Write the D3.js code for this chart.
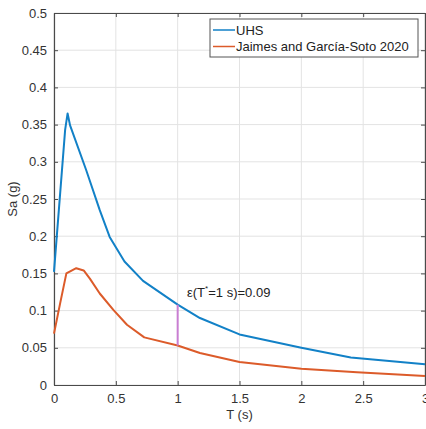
<!DOCTYPE html>
<html>
<head>
<meta charset="utf-8">
<script src="https://cdn.jsdelivr.net/npm/d3@7"></script>
<style>
  html, body { margin: 0; padding: 0; background: #fff; }
  svg { display: block; font-family: "Liberation Sans", Arial, Helvetica, sans-serif; }
</style>
</head>
<body>
<svg id="chart" width="426" height="429"></svg>
<script>
// ---- data ----
const uhsT  = [0, 0.09, 0.11, 0.13, 0.26, 0.37, 0.45, 0.57, 0.72, 1.0, 1.18, 1.5, 2.0, 2.4, 3.0];
const uhsSa = [0.152, 0.343, 0.365, 0.349, 0.289, 0.235, 0.199, 0.166, 0.140, 0.108, 0.090, 0.068, 0.050, 0.037, 0.028];
const jgT   = [0, 0.05, 0.1, 0.18, 0.24, 0.29, 0.37, 0.48, 0.59, 0.73, 1.0, 1.18, 1.5, 2.0, 2.45, 3.0];
const jgSa  = [0.069, 0.110, 0.150, 0.157, 0.154, 0.143, 0.123, 0.101, 0.081, 0.064, 0.053, 0.043, 0.031, 0.022, 0.017, 0.012];
const seriesNames = ["UHS", "Jaimes and García-Soto 2020"];
const xTicks = [0, 0.5, 1, 1.5, 2, 2.5, 3];
const xTickLabels = ["0", "0.5", "1", "1.5", "2", "2.5", "3"];
const yTicks = [0, 0.05, 0.1, 0.15, 0.2, 0.25, 0.3, 0.35, 0.4, 0.45, 0.5];
const yTickLabels = ["0", "0.05", "0.1", "0.15", "0.2", "0.25", "0.3", "0.35", "0.4", "0.45", "0.5"];
const epsT = 1.0;
const epsLabel = "0.09";

// ---- layout ----
const svg = d3.select("#chart");
const L = 54, R = 425, T = 13, B = 385;
const x = d3.scaleLinear().domain([0, 3]).range([L, R]);
const y = d3.scaleLinear().domain([0, 0.5]).range([B, T]);
const colors = ["#1281c7", "#dc5b2a"];
const axisColor = "#4a4a4a";
const textColor = "#333";

// grid
svg.append("g").selectAll("line").data(xTicks).join("line")
  .attr("x1", d => x(d)).attr("x2", d => x(d)).attr("y1", T).attr("y2", B)
  .attr("stroke", "#e3e3e3").attr("stroke-width", 1);
svg.append("g").selectAll("line").data(yTicks).join("line")
  .attr("x1", L).attr("x2", R).attr("y1", d => y(d)).attr("y2", d => y(d))
  .attr("stroke", "#e3e3e3").attr("stroke-width", 1);

// axes
const xAxis = d3.axisBottom(x).tickValues(xTicks).tickFormat((d, i) => xTickLabels[i]).tickSizeInner(-4).tickSizeOuter(0).tickPadding(9);
const yAxis = d3.axisLeft(y).tickValues(yTicks).tickFormat((d, i) => yTickLabels[i]).tickSizeInner(-4).tickSizeOuter(0).tickPadding(7);
const gx = svg.append("g").attr("transform", `translate(0,${B})`).call(xAxis);
const gy = svg.append("g").attr("transform", `translate(${L},0)`).call(yAxis);
[gx, gy].forEach(g => {
  g.select(".domain").attr("stroke", axisColor).attr("stroke-width", 1.2);
  g.selectAll(".tick line").attr("stroke", axisColor);
  g.selectAll(".tick text").attr("fill", textColor).attr("font-size", 13).attr("font-family", "Liberation Sans, Arial, sans-serif");
});
// top and right box with inward ticks
const gt = svg.append("g").attr("transform", `translate(0,${T})`).call(d3.axisTop(x).tickValues(xTicks).tickFormat("").tickSizeInner(-4).tickSizeOuter(0));
const gr = svg.append("g").attr("transform", `translate(${R},0)`).call(d3.axisRight(y).tickValues(yTicks).tickFormat("").tickSizeInner(-4).tickSizeOuter(0));
[gt, gr].forEach(g => {
  g.select(".domain").attr("stroke", axisColor).attr("stroke-width", 1.2);
  g.selectAll(".tick line").attr("stroke", axisColor);
});

// axis labels
svg.append("text").attr("x", (L + R) / 2).attr("y", 419).attr("text-anchor", "middle")
  .attr("font-size", 13).attr("fill", textColor).text("T (s)");
svg.append("text").attr("transform", `translate(17,${(T + B) / 2}) rotate(-90)`).attr("text-anchor", "middle")
  .attr("font-size", 13).attr("fill", textColor).text("Sa (g)");

// lines
const line = d3.line().x(d => x(d[0])).y(d => y(d[1]));
const seriesData = [uhsT.map((t, i) => [t, uhsSa[i]]), jgT.map((t, i) => [t, jgSa[i]])];
svg.append("g").selectAll("path").data(seriesData).join("path")
  .attr("d", line).attr("fill", "none")
  .attr("stroke", (d, i) => colors[i]).attr("stroke-width", 2).attr("stroke-linejoin", "round");

// epsilon vertical segment
const interp = (ts, vs, t) => {
  for (let i = 0; i < ts.length - 1; i++) {
    if (t >= ts[i] && t <= ts[i + 1]) return vs[i] + (vs[i + 1] - vs[i]) * (t - ts[i]) / (ts[i + 1] - ts[i]);
  }
  return vs[vs.length - 1];
};
svg.append("line").attr("x1", x(epsT)).attr("x2", x(epsT))
  .attr("y1", y(interp(uhsT, uhsSa, epsT))).attr("y2", y(interp(jgT, jgSa, epsT)))
  .attr("stroke", "#c97ed2").attr("stroke-width", 2);

const ann = svg.append("text").attr("x", 187).attr("y", 297).attr("font-size", 13).attr("fill", "#222");
ann.append("tspan").text("ε(T");
ann.append("tspan").attr("font-size", 8).attr("dy", -6).text("*");
ann.append("tspan").attr("dy", 6).text(`=${d3.format("")(epsT)} s)=${epsLabel}`);

// legend
const lg = svg.append("g");
lg.append("rect").attr("x", 210).attr("y", 19).attr("width", 208).attr("height", 38)
  .attr("fill", "#fff").attr("stroke", "#555").attr("stroke-width", 1);
seriesNames.forEach((n, i) => {
  const yy = 30 + i * 16.5;
  lg.append("line").attr("x1", 213).attr("x2", 235).attr("y1", yy).attr("y2", yy)
    .attr("stroke", colors[i]).attr("stroke-width", 1.5);
  lg.append("text").attr("x", 236).attr("y", yy + 4.5).attr("font-size", 13).attr("fill", "#222").text(n);
});
</script>
</body>
</html>
